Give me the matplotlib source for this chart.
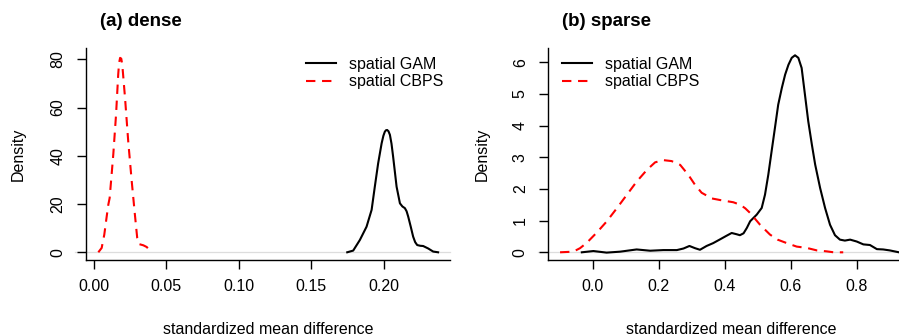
import matplotlib
matplotlib.use("Agg")
import matplotlib.pyplot as plt

plt.rcParams['font.family'] = ['Liberation Sans', 'DejaVu Sans']

# (a) dense -- density curves
dense_gam_x = [0.1747, 0.1788, 0.1834, 0.1880, 0.1915, 0.1937, 0.1960, 0.1984, 0.1996, 0.2006,
               0.2014, 0.2022, 0.2031, 0.2041, 0.2052, 0.2063, 0.2087, 0.2110, 0.2127, 0.2144,
               0.2156, 0.2167, 0.2185, 0.2201, 0.2215, 0.2229, 0.2250, 0.2270, 0.2304, 0.2339,
               0.2373]
dense_gam_y = [0.0, 0.7, 5.1, 10.6, 17.6, 27.2, 36.9, 45.2, 48.3, 50.0,
               50.6, 50.7, 50.2, 48.7, 45.0, 39.7, 27.2, 20.3, 19.0, 18.3,
               17.0, 14.8, 10.5, 6.5, 4.2, 3.0, 2.7, 2.6, 1.6, 0.3,
               0.0]
dense_cbps_x = [0.0032, 0.0055, 0.0073, 0.0090, 0.0101, 0.0110, 0.0135, 0.0154, 0.0169,
                0.0175, 0.0182, 0.0190, 0.0197, 0.0216, 0.0238, 0.0262, 0.0284, 0.0300, 0.0312,
                0.0342, 0.0365, 0.0400]
dense_cbps_y = [0.0, 1.8, 7.3, 15.0, 19.8, 22.5, 40.5, 57.0, 73.7,
                78.5, 80.6, 80.3, 77.8, 64.0, 46.0, 29.5, 15.6, 5.9, 3.4,
                2.9, 2.2, 0.0]

# (b) sparse
sparse_gam_x = [-0.033, 0.002, 0.042, 0.083, 0.133, 0.174, 0.214, 0.255, 0.275, 0.293,
                0.310, 0.325, 0.345, 0.365, 0.386, 0.405, 0.421, 0.436, 0.446, 0.457,
                0.467, 0.477, 0.497, 0.512, 0.522, 0.532, 0.542, 0.552, 0.562, 0.573,
                0.583, 0.593, 0.603, 0.613, 0.623, 0.633, 0.643, 0.653, 0.664, 0.674,
                0.689, 0.704, 0.719, 0.734, 0.749, 0.764, 0.780, 0.800, 0.820, 0.840,
                0.861, 0.880, 0.900, 0.928]
sparse_gam_y = [0.0, 0.04, -0.01, 0.02, 0.09, 0.05, 0.07, 0.07, 0.12, 0.20,
                0.13, 0.08, 0.20, 0.29, 0.41, 0.52, 0.61, 0.57, 0.54, 0.60,
                0.77, 0.98, 1.19, 1.40, 1.82, 2.45, 3.19, 3.92, 4.66, 5.19,
                5.61, 5.92, 6.14, 6.22, 6.14, 5.82, 4.98, 4.14, 3.40, 2.77,
                2.03, 1.40, 0.87, 0.54, 0.40, 0.37, 0.40, 0.34, 0.25, 0.23,
                0.10, 0.09, 0.06, 0.0]
sparse_cbps_x = [-0.099, -0.059, -0.0385, -0.018, 0.012, 0.042, 0.073, 0.103, 0.133,
                 0.164, 0.189, 0.214, 0.239, 0.265, 0.290, 0.310, 0.330, 0.361,
                 0.386, 0.426, 0.447, 0.462, 0.477, 0.507, 0.537, 0.560, 0.588,
                 0.618, 0.648, 0.679, 0.709, 0.730, 0.759]
sparse_cbps_y = [0.0, 0.02, 0.13, 0.30, 0.62, 0.97, 1.39, 1.81, 2.23,
                 2.60, 2.84, 2.91, 2.88, 2.76, 2.44, 2.13, 1.88, 1.70,
                 1.65, 1.58, 1.50, 1.39, 1.24, 0.87, 0.56, 0.40, 0.29,
                 0.18, 0.14, 0.06, 0.03, 0.0, 0.0]

panels = [
    dict(title="(a) dense", gx=dense_gam_x, gy=dense_gam_y, cx=dense_cbps_x, cy=dense_cbps_y,
         xlim=(-0.0055, 0.2455), ylim=(-3.2, 84.7),
         xticks=[0.00, 0.05, 0.10, 0.15, 0.20], xfmt="{:.2f}",
         yticks=[0, 20, 40, 60, 80], yfmt="{:d}",
         rect=[85.7, 48, 450, 260], title_x=100, ylab_x=18, xlab_x=268, leg_x=305.7),
    dict(title="(b) sparse", gx=sparse_gam_x, gy=sparse_gam_y, cx=sparse_cbps_x, cy=sparse_cbps_y,
         xlim=(-0.1355, 0.928), ylim=(-0.243, 6.45),
         xticks=[0.0, 0.2, 0.4, 0.6, 0.8], xfmt="{:.1f}",
         yticks=[0, 1, 2, 3, 4, 5, 6], yfmt="{:d}",
         rect=[548, 48, 899, 260], title_x=562, ylab_x=482, xlab_x=731, leg_x=561.7),
]

W, H = 899, 336
fig = plt.figure(figsize=(W / 100, H / 100), dpi=100)
fs = 11.5

for p in panels:
    x0, y0, x1, y1 = p["rect"]
    ax = fig.add_axes([x0 / W, 1 - y1 / H, (x1 - x0) / W, (y1 - y0) / H])
    # zero line like R's density plot
    ax.plot([-0.028, 1.0], [0, 0], transform=ax.get_yaxis_transform(), color="#dddddd",
            lw=0.9, clip_on=False, zorder=1)
    ax.plot(p["gx"], p["gy"], color="black", lw=1.5, label="spatial GAM", zorder=3)
    ax.plot(p["cx"], p["cy"], color="red", lw=1.5, dashes=(4.5, 3.2), label="spatial CBPS", zorder=3)
    ax.set_xlim(*p["xlim"])
    ax.set_ylim(*p["ylim"])
    ax.set_xticks(p["xticks"])
    ax.set_xticklabels([p["xfmt"].format(v) for v in p["xticks"]])
    ax.set_yticks(p["yticks"])
    ax.set_yticklabels([p["yfmt"].format(v) for v in p["yticks"]], rotation=90, va="center")
    for s in ("top", "right"):
        ax.spines[s].set_visible(False)
    for s in ("left", "bottom"):
        ax.spines[s].set_linewidth(1.0)
    ax.tick_params(direction="out", length=6.5, width=1.0, labelsize=fs, pad=7)
    ax.tick_params(axis="y", pad=8)

    leg = ax.legend(loc="upper left", frameon=False, fontsize=fs, handlelength=1.9,
                    handletextpad=0.8, labelspacing=0.15, borderpad=0, borderaxespad=0,
                    bbox_to_anchor=(p["leg_x"] / W, 1 - 57 / H), bbox_transform=fig.transFigure)

    fig.text(p["title_x"] / W, 1 - 22 / H, p["title"], fontsize=13.5, fontweight="bold",
             ha="left", va="center")
    fig.text(p["ylab_x"] / W, 1 - 154 / H, "Density", fontsize=fs, rotation=90,
             ha="center", va="center")
    fig.text(p["xlab_x"] / W, 2.5 / H, "standardized mean difference", fontsize=fs,
             ha="center", va="baseline")

fig.savefig("out.png", dpi=100)
